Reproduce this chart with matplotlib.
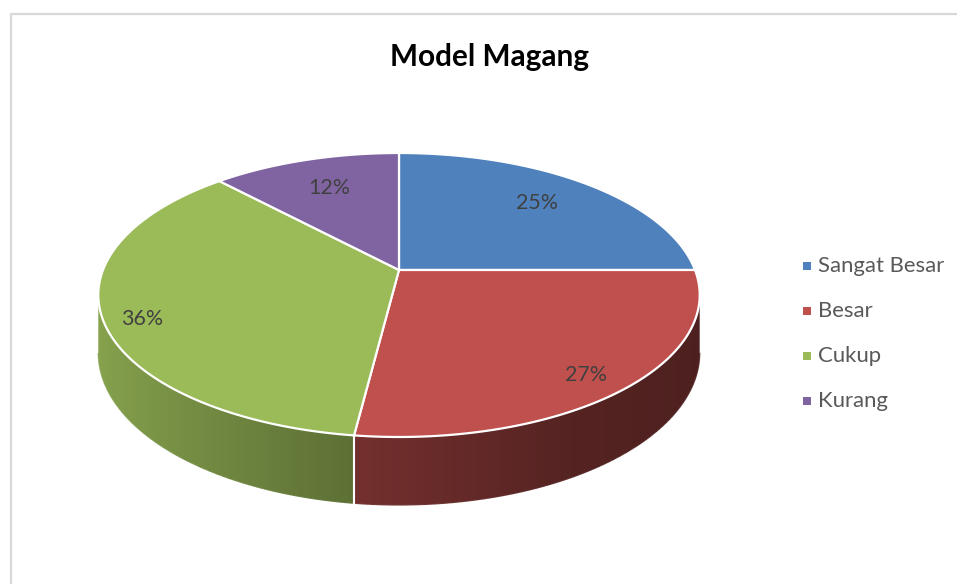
import numpy as np
import matplotlib
matplotlib.use("Agg")
import matplotlib.pyplot as plt
from matplotlib.collections import LineCollection
from matplotlib.patches import Polygon

# ---- data ----
title = "Model Magang"
categories = ["Sangat Besar", "Besar", "Cukup", "Kurang"]
values = [25, 27, 36, 12]
colors = ["#4f81bd", "#c0504d", "#9bbb59", "#8064a2"]

plt.rcParams['font.family'] = ['Lato', 'DejaVu Sans']

W, HP = 957, 584
fig = plt.figure(figsize=(W / 100, HP / 100), dpi=100)
ax = fig.add_axes([0, 0, 1, 1])
ax.set_xlim(0, W)
ax.set_ylim(HP, 0)
ax.axis('off')

# geometry of the perspective pie (pixels)
cx, cy = 399, 270
A, B, K = 296, 137.6, 0.176
DEPTH = 56


def proj(r, theta_deg, z=0.0):
    t = np.radians(theta_deg)
    u = r * np.sin(t)
    v = r * np.cos(t)
    w = 1 + K * v
    return cx + A * u / w, cy - B * v / w + z / w


def shade_factor(theta_deg):
    return np.interp(np.sin(np.radians(theta_deg)),
                     [-1, -0.12, 0.5, 1], [0.88, 0.60, 0.44, 0.40])


total = float(sum(values))
bounds = np.concatenate([[0], np.cumsum(values) / total * 360.0])

# ---- side walls (front, visible part) with horizontal gradient ----
vis_lo = np.degrees(np.arccos(-K))
vis_hi = 360 - vis_lo
tt = np.linspace(vis_lo, vis_hi, 2000)
xs_front = np.array([proj(1, t)[0] for t in tt])      # decreasing
xcols = np.arange(W) + 0.5
theta_of_x = np.interp(xcols, xs_front[::-1], tt[::-1])
fac_x = shade_factor(theta_of_x)

for i in range(len(values)):
    a0, a1 = max(bounds[i], vis_lo), min(bounds[i + 1], vis_hi)
    if a1 <= a0:
        continue
    ts = np.linspace(a0, a1, 300)
    top = [proj(1, t) for t in ts]
    bot = [proj(1, t, DEPTH) for t in ts[::-1]]
    poly = Polygon(top + bot, closed=True, facecolor='none', edgecolor='none',
                   transform=ax.transData)
    ax.add_patch(poly)
    base = np.array(matplotlib.colors.to_rgb(colors[i]))
    img = np.clip(fac_x[None, :, None] * base[None, None, :], 0, 1)
    im = ax.imshow(img, extent=[0, W, HP, 0], aspect='auto',
                   interpolation='bilinear', zorder=1)
    im.set_clip_path(poly)
    # smooth the lower rim
    bpts = np.array([proj(1, t, DEPTH) for t in ts])
    segs = np.stack([bpts[:-1], bpts[1:]], axis=1)
    segcols = [tuple(np.clip(base * shade_factor(t), 0, 1)) for t in (ts[:-1] + ts[1:]) / 2]
    ax.add_collection(LineCollection(segs, colors=segcols, linewidths=0.9, zorder=1.5))

# white seams on visible front wall
for b in bounds[1:-1]:
    if np.cos(np.radians(b)) < -K:
        x0, y0 = proj(1, b)
        x1, y1 = proj(1, b, DEPTH)
        ax.plot([x0, x1], [y0, y1], color='white', lw=1.5, zorder=2)

# ---- top faces ----
for i in range(len(values)):
    a0, a1 = bounds[i], bounds[i + 1]
    ts = np.linspace(a0, a1, 200)
    pts = [proj(0, 0)] + [proj(1, t) for t in ts]
    ax.add_patch(Polygon(pts, closed=True, facecolor=colors[i],
                         edgecolor='white', lw=1.6, joinstyle='round', zorder=3))

# ---- labels ----
renderer = fig.canvas.get_renderer()


def fit_size(txt, target_w, **kw):
    t = ax.text(0, 0, txt, fontsize=10, **kw)
    w = t.get_window_extent(renderer).width
    t.remove()
    return 10 * target_w / w


label_r = [0.72, 0.85, 0.87, 0.72]
label_dy = [-3, 6, 10, 0]
lab_fs = fit_size("36%", 42)
for i in range(len(values)):
    mid = (bounds[i] + bounds[i + 1]) / 2
    x, y = proj(label_r[i], mid)
    ax.text(x, y + label_dy[i], f"{values[i]}%", ha='center', va='center',
            fontsize=lab_fs, color='#404040', zorder=4)

# ---- title ----
tfs = fit_size(title, 199, fontweight='bold')
ax.text(490, 57, title, ha='center', va='center', fontsize=tfs,
        fontweight='bold', color='black')

# ---- legend ----
lfs = fit_size(categories[0], 126)
for i, cat in enumerate(categories):
    y = 266 + 45 * i
    ax.scatter([806.5], [y], marker='s', s=26, color=colors[i], linewidths=0)
    ax.text(818, y, cat, ha='left', va='center', fontsize=lfs, color='#595959')

# ---- chart border ----
ax.plot([11, 11, W + 5], [HP + 5, 14, 14], color='#d9d9d9', lw=1.6,
        solid_joinstyle='miter')

ax.set_xlim(0, W)
ax.set_ylim(HP, 0)
fig.savefig("out.png", dpi=100)
